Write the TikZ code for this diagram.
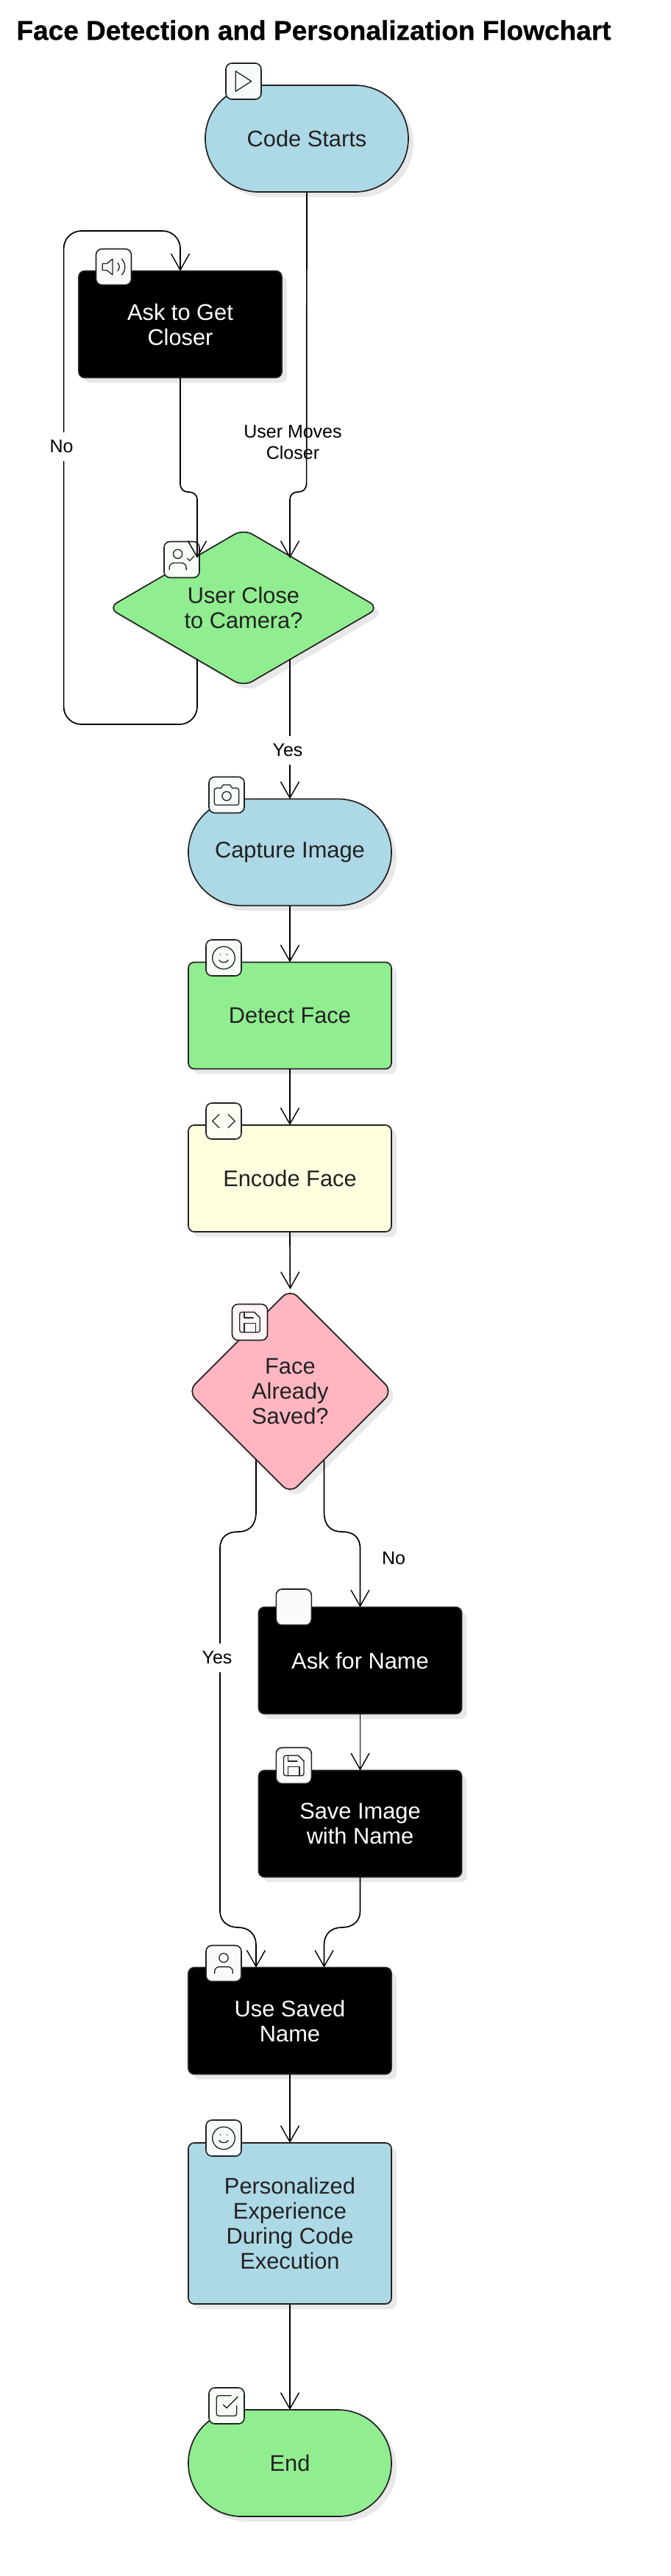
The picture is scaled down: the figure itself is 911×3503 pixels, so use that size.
\documentclass[tikz,border=0pt]{standalone}
\usepackage{fontspec}
\setmainfont{Liberation Sans}
\newfontfamily\titlefont[BoldFeatures={FakeBold=0.6}]{Liberation Sans}
\usetikzlibrary{arrows.meta,shapes.geometric,shapes.misc,shadows}
\definecolor{ink}{HTML}{222222}
\definecolor{sblue}{HTML}{ADD8E6}
\definecolor{sgreen}{HTML}{90EE90}
\definecolor{syellow}{HTML}{FFFFE0}
\definecolor{spink}{HTML}{FFB6C1}
\definecolor{shade}{HTML}{E8E8E8}
\newcommand{\txt}{\fontsize{30.8}{34}\selectfont}
\newcommand{\lbl}{\fontsize{25}{29}\selectfont}
\tikzset{
  base/.style={draw=ink,line width=1.7pt,inner sep=0pt,outer sep=0pt,align=center,font=\txt,text=ink,
    drop shadow={shadow xshift=7pt,shadow yshift=-7pt,fill=shade,opacity=1}},
  onblack/.style={fill=black,text=white},
  stadium/.style={base,rounded rectangle,minimum width=276pt,minimum height=145pt},
  boxed/.style={base,rectangle,rounded corners=8pt,minimum width=276pt,minimum height=145pt},
  decide/.style={base,diamond,rounded corners=14pt},
  iconbox/.style={rectangle,draw=ink,line width=1.6pt,rounded corners=8pt,minimum width=48pt,minimum height=49pt,inner sep=0pt},
  glyph/.style={draw=ink,line width=1.3pt,line cap=round,line join=round},
  edge/.style={draw=black,line width=1.7pt},
  arrowed/.style={edge,-{Straight Barb[length=22pt,width=25pt,line width=1.4pt]}},
  elabel/.style={font=\lbl,text=black,align=center,inner sep=0pt},
  masked/.style={elabel,fill=white,minimum height=39pt,inner xsep=1pt}
}
% glyphs on a 24-unit grid, y pointing down
\newcommand{\glyphat}[2]{\begin{scope}[shift={(#1)},xshift=-18.36pt,yshift=18.36pt,scale=1.53]#2\end{scope}}
\newcommand{\smileglyph}{\draw[glyph] (12,12) circle[radius=10];
  \draw[glyph] (8,14) .. controls (9.5,16) and (10.5,16) .. (12,16) .. controls (13.5,16) and (14.5,16) .. (16,14);
  \draw[glyph] (9,9) -- (9.01,9) (15,9) -- (15.01,9);}
\newcommand{\saveglyph}{\draw[glyph,rounded corners=3pt] (16,3) -- (3,3) -- (3,21) -- (21,21) -- (21,8);
  \draw[glyph] (16,3) -- (21,8);
  \draw[glyph] (17,21) -- (17,13) -- (7,13) -- (7,21) (7,3) -- (7,8) -- (15,8);}
\begin{document}
\begin{tikzpicture}[x=1pt,y=-1pt]
\useasboundingbox (0,0) rectangle (911,3503);
\fill[white] (0,0) rectangle (911,3503);
\node[font=\titlefont\bfseries\fontsize{37}{40}\selectfont,text=black,inner sep=0pt] (title) at (426.5,41) {Face Detection and Personalization Flowchart};

% main nodes
\node[stadium,fill=sblue] (start) at (417,188.5) {Code Starts};
\node[boxed,onblack] (ask) at (245,441) {Ask to Get\\Closer};
\node[decide,fill=sgreen,minimum width=368pt,minimum height=214pt,aspect=1.67] (close) at (331,826.5) {User Close\\to Camera?};
\node[stadium,fill=sblue] (capture) at (394,1159) {Capture Image};
\node[boxed,fill=sgreen] (detect) at (394,1381) {Detect Face};
\node[boxed,fill=syellow] (encode) at (394,1602.5) {Encode Face};
\node[decide,fill=spink,minimum width=278pt,minimum height=278pt,aspect=1] (saved) at (394.4,1892) {Face\\Already\\Saved?};
\node[boxed,onblack] (askname) at (489.5,2258) {Ask for Name};
\node[boxed,onblack] (saveimg) at (489.5,2480) {Save Image\\with Name};
\node[boxed,onblack] (use) at (394,2748) {Use Saved\\Name};
\node[boxed,fill=sblue,minimum height=219pt] (pers) at (394,3023.5) {Personalized\\Experience\\During Code\\Execution};
\node[stadium,fill=sgreen] (finish) at (394,3349.5) {End};

% icon badges
\node[iconbox,fill=sblue!10] (i1) at (331,110.5) {};
\glyphat{331,110.5}{\draw[glyph] (5,3) -- (19,12) -- (5,21) -- cycle;}
\node[iconbox,fill=black!2] (i2) at (154.5,363) {};
\glyphat{154.5,363}{\draw[glyph] (11,5) -- (6,9) -- (2,9) -- (2,15) -- (6,15) -- (11,19) -- cycle;
  \draw[glyph] (15.54,8.46) .. controls (17.5,10.4) and (17.5,13.6) .. (15.54,15.53);
  \draw[glyph] (19.07,4.93) .. controls (23,8.8) and (23,15.2) .. (19.07,19.07);}
\node[iconbox,fill=sgreen!8] (i3) at (247,761) {};
\glyphat{247,761}{\draw[glyph] (16,21) -- (16,19) .. controls (16,16.8) and (14.2,15) .. (12,15) -- (5,15) .. controls (2.8,15) and (1,16.8) .. (1,19) -- (1,21);
  \draw[glyph] (8.5,7) circle[radius=4];
  \draw[glyph] (17,11) -- (19,13) -- (23,9);}
\node[iconbox,fill=sblue!10] (i4) at (308,1081) {};
\glyphat{308,1081}{\draw[glyph,rounded corners=3pt] (7,6) -- (1,6) -- (1,21) -- (23,21) -- (23,6) -- (17,6);
  \draw[glyph] (7,6) -- (9,3) -- (15,3) -- (17,6);
  \draw[glyph] (12,13) circle[radius=4];}
\node[iconbox,fill=sgreen!8] (i5) at (304,1302.5) {};
\glyphat{304,1302.5}{\smileglyph}
\node[iconbox,fill=syellow!30] (i6) at (304,1524.5) {};
\glyphat{304,1524.5}{\draw[glyph] (16,18) -- (22,12) -- (16,6) (8,6) -- (2,12) -- (8,18);}
\node[iconbox,fill=spink!15] (i7) at (339.5,1798) {};
\glyphat{339.5,1798}{\saveglyph}
\node[iconbox,fill=black!2] (i8) at (399.3,2185.5) {};
\node[iconbox,fill=black!2] (i9) at (399.3,2401) {};
\glyphat{399.3,2401}{\saveglyph}
\node[iconbox,fill=black!2] (i10) at (304,2670) {};
\glyphat{304,2670}{\draw[glyph] (20,21) -- (20,19) .. controls (20,16.8) and (18.2,15) .. (16,15) -- (8,15) .. controls (5.8,15) and (4,16.8) .. (4,19) -- (4,21);
  \draw[glyph] (12,7) circle[radius=4];}
\node[iconbox,fill=sblue!10] (i11) at (304,2907.5) {};
\glyphat{304,2907.5}{\smileglyph}
\node[iconbox,fill=sgreen!8] (i12) at (308,3271.5) {};
\glyphat{308,3271.5}{\draw[glyph] (9,11) -- (12,14) -- (22,4);
  \draw[glyph,rounded corners=3pt] (21,12) -- (21,21) -- (3,21) -- (3,3) -- (16,3);}

% free ends of connectors on the diamonds and on wide boxes
\coordinate (closeInL) at (268,759);
\coordinate (closeInR) at (394,759);
\coordinate (closeOutL) at (268,896);
\coordinate (closeOutR) at (394,896);
\coordinate (savedOutL) at (348,1984);
\coordinate (savedOutR) at (440.5,1986);
\coordinate (useInL) at (348,2675.5);
\coordinate (useInR) at (440.5,2675.5);

% connectors
\draw[arrowed] (start.south) -- (416.6,657) .. controls (416.6,666) and (411,669) .. (405,669) .. controls (399,669) and (394,672) .. (394,680) -- (closeInR);
\draw[arrowed] (ask.south) -- (245,657) .. controls (245,666) and (250,669) .. (256,669) .. controls (262,669) and (268,672) .. (268,680) -- (closeInL);
\draw[arrowed,rounded corners=24pt] (closeOutL) -- (268,985) -- (86.6,985) -- (86.6,314) -- (245,314) -- (ask.north);
\draw[arrowed] (closeOutR) -- (capture.north);
\draw[arrowed] (capture.south) -- (detect.north);
\draw[arrowed] (detect.south) -- (encode.north);
\draw[arrowed] (encode.south) -- (saved.north);
\draw[arrowed] (savedOutR) -- (440.5,2056) .. controls (440.5,2075) and (450,2083) .. (465,2083) .. controls (480,2083) and (489.5,2090) .. (489.5,2106) -- (askname.north);
\draw[arrowed] (savedOutL) -- (348,2056) .. controls (348,2075) and (338,2083) .. (323.5,2083) .. controls (309,2083) and (299,2090) .. (299,2106) -- (299,2599) .. controls (299,2612) and (309,2621) .. (323.5,2621) .. controls (338,2621) and (348,2630) .. (348,2645) -- (useInL);
\draw[arrowed] (askname.south) -- (saveimg.north);
\draw[arrowed] (saveimg.south) -- (489.5,2599) .. controls (489.5,2612) and (480,2621) .. (465,2621) .. controls (450,2621) and (440.5,2630) .. (440.5,2645) -- (useInR);
\draw[arrowed] (use.south) -- (pers.north);
\draw[arrowed] (pers.south) -- (finish.north);

% connector labels
\node[elabel] (lmoves) at (398,602) {User Moves\\Closer};
\node[masked] (lno1) at (83.5,607) {No};
\node[masked] (lyes1) at (391,1020) {Yes};
\node[masked] (lyes2) at (295,2254) {Yes};
\node[elabel] (lno2) at (535,2119) {No};
\end{tikzpicture}
\end{document}
